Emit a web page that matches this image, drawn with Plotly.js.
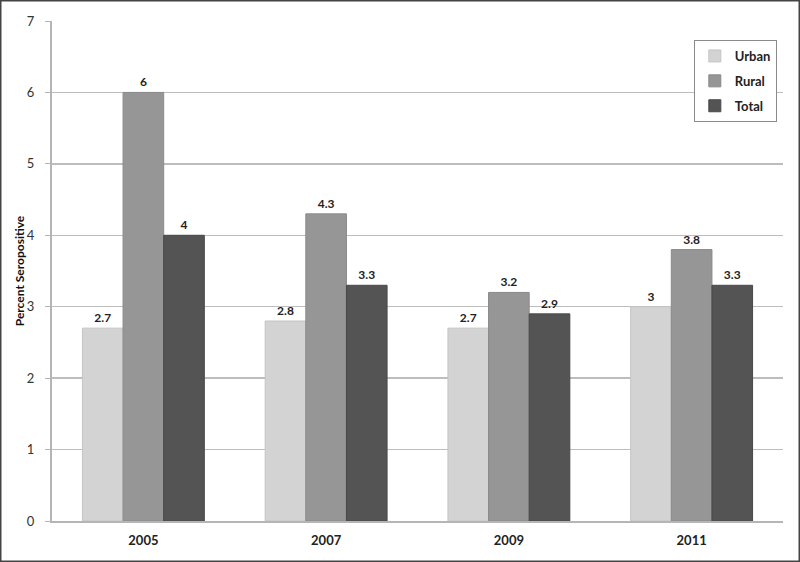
<!DOCTYPE html>
<html>
<head>
<meta charset="utf-8">
<script src="https://cdn.plot.ly/plotly-3.0.1.min.js"></script>
<style>html,body{margin:0;padding:0;background:#fff;}#chart{width:800px;height:562px;}</style>
</head>
<body>
<div id="chart"></div>
<script>
const years = ['2005', '2007', '2009', '2011'];
const urban = [2.7, 2.8, 2.7, 3];
const rural = [6, 4.3, 3.2, 3.8];
const total = [4, 3.3, 2.9, 3.3];
const seriesNames = ['Urban', 'Rural', 'Total'];
const yTicks = [0, 1, 2, 3, 4, 5, 6, 7];

const fillColors = ['#d3d3d3', '#969696', '#545454'];
const lineColors = ['#c4c4c4', '#8a8a8a', '#484848'];
const seriesData = [urban, rural, total];

const traces = seriesData.map((vals, i) => ({
  type: 'bar',
  name: seriesNames[i],
  x: years,
  y: vals,
  text: vals.map(v => String(v)),
  textposition: 'outside',
  cliponaxis: false,
  textfont: {family: 'Lato, "Open Sans", sans-serif', size: 12, color: '#222', weight: 'bold'},
  marker: {color: fillColors[i], line: {color: lineColors[i], width: 1}},
  legendgroup: 'g' + i,
  hoverinfo: 'none'
}));

const layout = {
  width: 800,
  height: 562,
  margin: {l: 52, r: 17, t: 21, b: 41},
  paper_bgcolor: '#ffffff',
  plot_bgcolor: '#ffffff',
  bargap: 0.333,
  bargroupgap: 0,
  font: {family: 'Lato, "Open Sans", sans-serif', size: 13, color: '#222'},
  showlegend: true,
  legend: {
    x: 0.878, y: 0.962, xanchor: 'left', yanchor: 'top',
    bordercolor: '#8a8a8a', borderwidth: 1, bgcolor: '#ffffff',
    font: {family: 'Lato, "Open Sans", sans-serif', size: 13, color: '#222', weight: 'bold'},
    traceorder: 'grouped', tracegroupgap: 5,
    itemwidth: 30
  },
  xaxis: {
    type: 'category',
    categoryarray: years,
    showline: true, linecolor: '#b5b5b5', linewidth: 2,
    ticks: '', showgrid: false,
    tickfont: {family: 'Lato, "Open Sans", sans-serif', size: 13, color: '#222', weight: 'bold'},
    ticklabelstandoff: 6
  },
  yaxis: {
    range: [0, 7],
    tickvals: yTicks,
    ticktext: yTicks.map(String),
    showline: true, linecolor: '#b5b5b5', linewidth: 2,
    ticks: 'outside', ticklen: 5, tickcolor: '#b5b5b5',
    showgrid: true, gridcolor: '#bdbdbd', gridwidth: 1.5,
    zeroline: false,
    tickfont: {family: 'Lato, "Open Sans", sans-serif', size: 13, color: '#333'},
    ticklabelstandoff: 8,
    automargin: false,
    title: {text: 'Percent Seropositive', standoff: 0,
      font: {family: 'Lato, "Open Sans", sans-serif', size: 12, color: '#111', weight: 'bold'}}
  },
  shapes: [{
    type: 'rect', xref: 'paper', yref: 'paper',
    x0: -52/731, x1: 1 + 17/731, y0: -41/500, y1: 1 + 21/500,
    line: {color: '#444', width: 3}, fillcolor: 'rgba(0,0,0,0)', layer: 'above'
  }]
};

Plotly.newPlot('chart', traces, layout, {displayModeBar: false, staticPlot: true});
</script>
</body>
</html>
